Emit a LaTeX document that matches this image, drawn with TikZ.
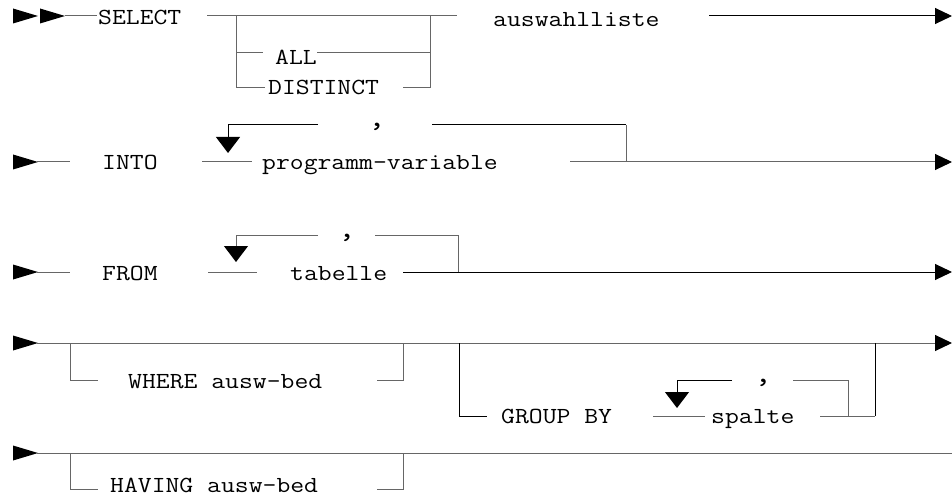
\documentclass[tikz,border=0pt]{standalone}
\usepackage{fontspec}
\setmonofont[FakeStretch=1.17]{Latin Modern Mono}
\usetikzlibrary{arrows.meta}
\tikzset{
  lbl/.style={font=\ttfamily\fontsize{23}{27}\selectfont, inner sep=0pt, anchor=base west},
  sep/.style={font=\ttfamily\fontsize{23}{27}\selectfont, inner sep=0pt, anchor=base, scale=1.3},
  rail/.style={line width=1pt, draw=black!60},
  railk/.style={line width=1pt, draw=black},
  endtip/.style={-{Triangle[length=17pt,width=16pt,color=black]}},
  downtip/.style={-{Triangle[length=16pt,width=24pt,color=black]}},
}
% filled entry triangle pointing right, base at x=#1, on line y=#2
\newcommand{\entrytri}[2]{\fill (#1,#2-7.5) -- (#1+25,#2) -- (#1,#2+7.5) -- cycle;}
\begin{document}
\begin{tikzpicture}[x=1pt,y=-1pt]
\useasboundingbox (0,0) rectangle (952,497);

% ---------- SELECT ----------
\entrytri{13}{16}
\entrytri{40}{16}
\node[lbl] (select) at (98,25) {SELECT};
\node[lbl] (all) at (275,65) {ALL};
\node[lbl] (distinct) at (268,95) {DISTINCT};
\node[lbl] (auswahl) at (493,27) {auswahlliste};
\coordinate (s0) at (65,16);
\coordinate (s1) at (97,16);
\coordinate (s2) at (207,16);
\coordinate (sL) at (236,16);
\coordinate (sR) at (430,16);
\coordinate (s3) at (457,16);
\coordinate (s4) at (709,16);
\coordinate (s5) at (952,16);
\coordinate (aL) at (236,53);
\coordinate (aR) at (430,53);
\coordinate (dL) at (236,88);
\coordinate (dR) at (430,88);
\draw[rail] (s0) -- (s1);
\draw[rail] (s2) -- (s3);
\draw[rail] (sL) -- (dL) -- (265,88);
\draw[rail] (aL) -- (263,53);
\draw[rail] (317,53) -- (aR);
\draw[rail] (403,88) -- (dR) -- (sR);
\draw[railk,endtip] (s4) -- (s5);

% ---------- INTO ----------
\entrytri{13}{162}
\node[lbl] (into) at (102,170) {INTO};
\node[lbl] (pvar) at (262,170) {programm-variable};
\node[sep] (c1) at (377,127) {,};
\coordinate (i0) at (37,162);
\coordinate (i1) at (70,162);
\coordinate (i2) at (202,162);
\coordinate (i3) at (252,162);
\coordinate (i4) at (570,162);
\coordinate (iR) at (626,162);
\coordinate (i5) at (952,162);
\coordinate (iTR) at (626,125);
\coordinate (iTL) at (228,125);
\coordinate (iTip) at (228,153);
\draw[rail] (i0) -- (i1);
\draw[rail] (i2) -- (i3);
\draw[rail,endtip] (i4) -- (i5);
\draw[rail] (iR) -- (iTR);
\draw[railk] (iTR) -- (432,125);
\draw[railk,downtip] (318,125) -- (iTL) -- (iTip);

% ---------- FROM ----------
\entrytri{13}{272}
\node[lbl] (from) at (102,280) {FROM};
\node[lbl] (tab) at (290,280) {tabelle};
\node[sep] (c2) at (347,237) {,};
\coordinate (f0) at (37,272);
\coordinate (f1) at (70,272);
\coordinate (f2) at (208,272);
\coordinate (f3) at (257,272);
\coordinate (f4) at (403,272);
\coordinate (fR) at (458,272);
\coordinate (f5) at (952,272);
\coordinate (fTR) at (458,235);
\coordinate (fTL) at (236,235);
\coordinate (fTip) at (236,262);
\draw[rail] (f0) -- (f1);
\draw[rail] (f2) -- (f3);
\draw[railk,endtip] (f4) -- (f5);
\draw[rail] (fR) -- (fTR) -- (375,235);
\draw[rail,downtip] (318,235) -- (fTL) -- (fTip);

% ---------- WHERE / GROUP BY ----------
\entrytri{13}{343}
\node[lbl] (where) at (128,388) {WHERE ausw-bed};
\node[lbl] (group) at (501,423) {GROUP BY};
\node[lbl] (spalte) at (711,423) {spalte};
\node[sep] (c3) at (763,382) {,};
\coordinate (w0) at (37,343);
\coordinate (w5) at (952,343);
\coordinate (wL) at (70,343);
\coordinate (wLb) at (70,380);
\coordinate (wR) at (403,343);
\coordinate (wRb) at (403,380);
\coordinate (gL) at (459,343);
\coordinate (gLb) at (459,416);
\coordinate (gR) at (875,343);
\coordinate (gRb) at (875,416);
\coordinate (gIR) at (848,416);
\coordinate (gIT) at (848,380);
\coordinate (gTL) at (677,380);
\coordinate (gTip) at (677,408);
\draw[rail,endtip] (w0) -- (w5);
\draw[rail] (wL) -- (wLb) -- (98,380);
\draw[rail] (377,380) -- (wRb) -- (wR);
\draw[railk] (gL) -- (gLb) -- (487,416);
\draw[rail] (653,416) -- (705,416);
\draw[rail] (820,416) -- (gRb);
\draw[railk] (gRb) -- (gR);
\draw[rail] (gIR) -- (gIT) -- (793,380);
\draw[railk,downtip] (732,380) -- (gTL) -- (gTip);

% ---------- HAVING ----------
\entrytri{13}{453}
\node[lbl] (having) at (110,492) {HAVING ausw-bed};
\coordinate (h0) at (37,453);
\coordinate (h5) at (952,453);
\coordinate (hL) at (70,453);
\coordinate (hLb) at (70,489);
\coordinate (hR) at (403,453);
\coordinate (hRb) at (403,489);
\draw[rail] (h0) -- (h5);
\draw[rail] (hL) -- (hLb) -- (98,489);
\draw[rail] (377,489) -- (hRb) -- (hR);
\end{tikzpicture}
\end{document}
